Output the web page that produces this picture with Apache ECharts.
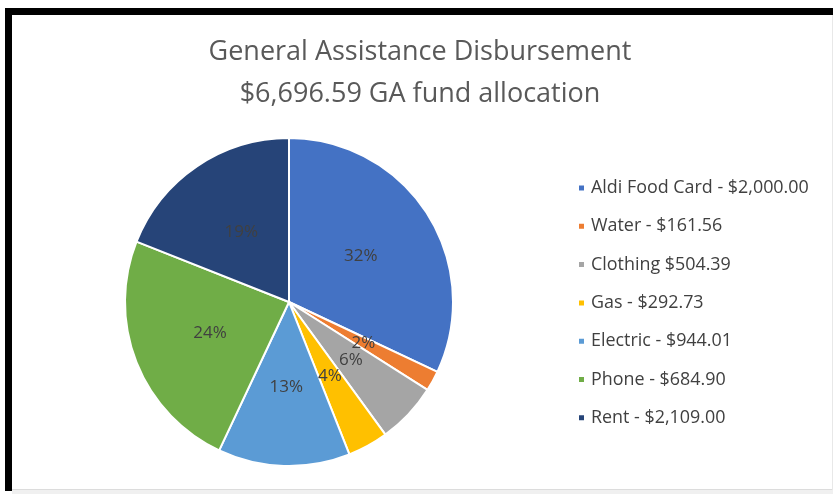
<!DOCTYPE html>
<html>
<head>
<meta charset="utf-8">
<script src="https://cdn.jsdelivr.net/npm/echarts@6/dist/echarts.min.js"></script>
<style>
html,body{margin:0;padding:0;background:#fff;}
#c{width:833px;height:494px;}
</style>
</head>
<body>
<div id="c"></div>
<script>
// Legend labels (as written in the reference)
var categories = [
  'Aldi Food Card - $2,000.00',
  'Water - $161.56',
  'Clothing $504.39',
  'Gas - $292.73',
  'Electric - $944.01',
  'Phone - $684.90',
  'Rent - $2,109.00'
];
// Slice shares as drawn in the pie (percent)
var shares = [32, 2, 6, 4, 13, 24, 19];
var colors = ['#4472C4', '#ED7D31', '#A5A5A5', '#FFC000', '#5B9BD5', '#70AD47', '#264478'];
var titleLines = ['General Assistance Disbursement', '$6,696.59 GA fund allocation'];

var FONT = 'Open Sans';
var chart = echarts.init(document.getElementById('c'), null, {renderer: 'canvas'});
var data = categories.map(function (n, i) {
  return {name: n, value: shares[i], itemStyle: {color: colors[i]}};
});
chart.setOption({
  backgroundColor: '#ffffff',
  animation: false,
  title: {
    text: titleLines.join('\n'),
    left: 420,
    top: 31,
    padding: 0,
    textAlign: 'center',
    textStyle: {fontFamily: FONT, fontSize: 27, fontWeight: 'normal', color: '#595959', lineHeight: 42}
  },
  legend: {
    orient: 'vertical',
    left: 577,
    top: 178,
    padding: 0,
    icon: 'rect',
    itemWidth: 7,
    itemHeight: 7,
    itemGap: 18.3,
    textStyle: {fontFamily: FONT, fontSize: 17.9, color: '#404040', lineHeight: 20, padding: [0, 0, 0, 1]},
    data: categories
  },
  graphic: [
    {type: 'rect', shape: {x: 5, y: 8, width: 828, height: 7}, style: {fill: '#000'}},
    {type: 'rect', shape: {x: 5, y: 8, width: 7, height: 483}, style: {fill: '#000'}},
    {type: 'rect', shape: {x: 12, y: 490, width: 821, height: 4}, style: {fill: '#f0f0f0'}},
    {type: 'rect', shape: {x: 12, y: 489, width: 821, height: 1}, style: {fill: '#dcdcdc'}},
    {type: 'rect', shape: {x: 832, y: 15, width: 1, height: 475}, style: {fill: '#e8e8e8'}}
  ],
  series: [{
    type: 'pie',
    center: [289, 302],
    radius: [0, 164],
    startAngle: 90,
    clockwise: true,
    avoidLabelOverlap: false,
    itemStyle: {borderColor: '#fff', borderWidth: 2},
    label: {
      show: true,
      position: 'inside',
      formatter: function (p) { return p.value + '%'; },
      fontFamily: FONT,
      fontSize: 17,
      color: '#404040'
    },
    labelLayout: {hideOverlap: false},
    labelLine: {show: false},
    emphasis: {disabled: true},
    data: data
  }]
});
</script>
</body>
</html>
